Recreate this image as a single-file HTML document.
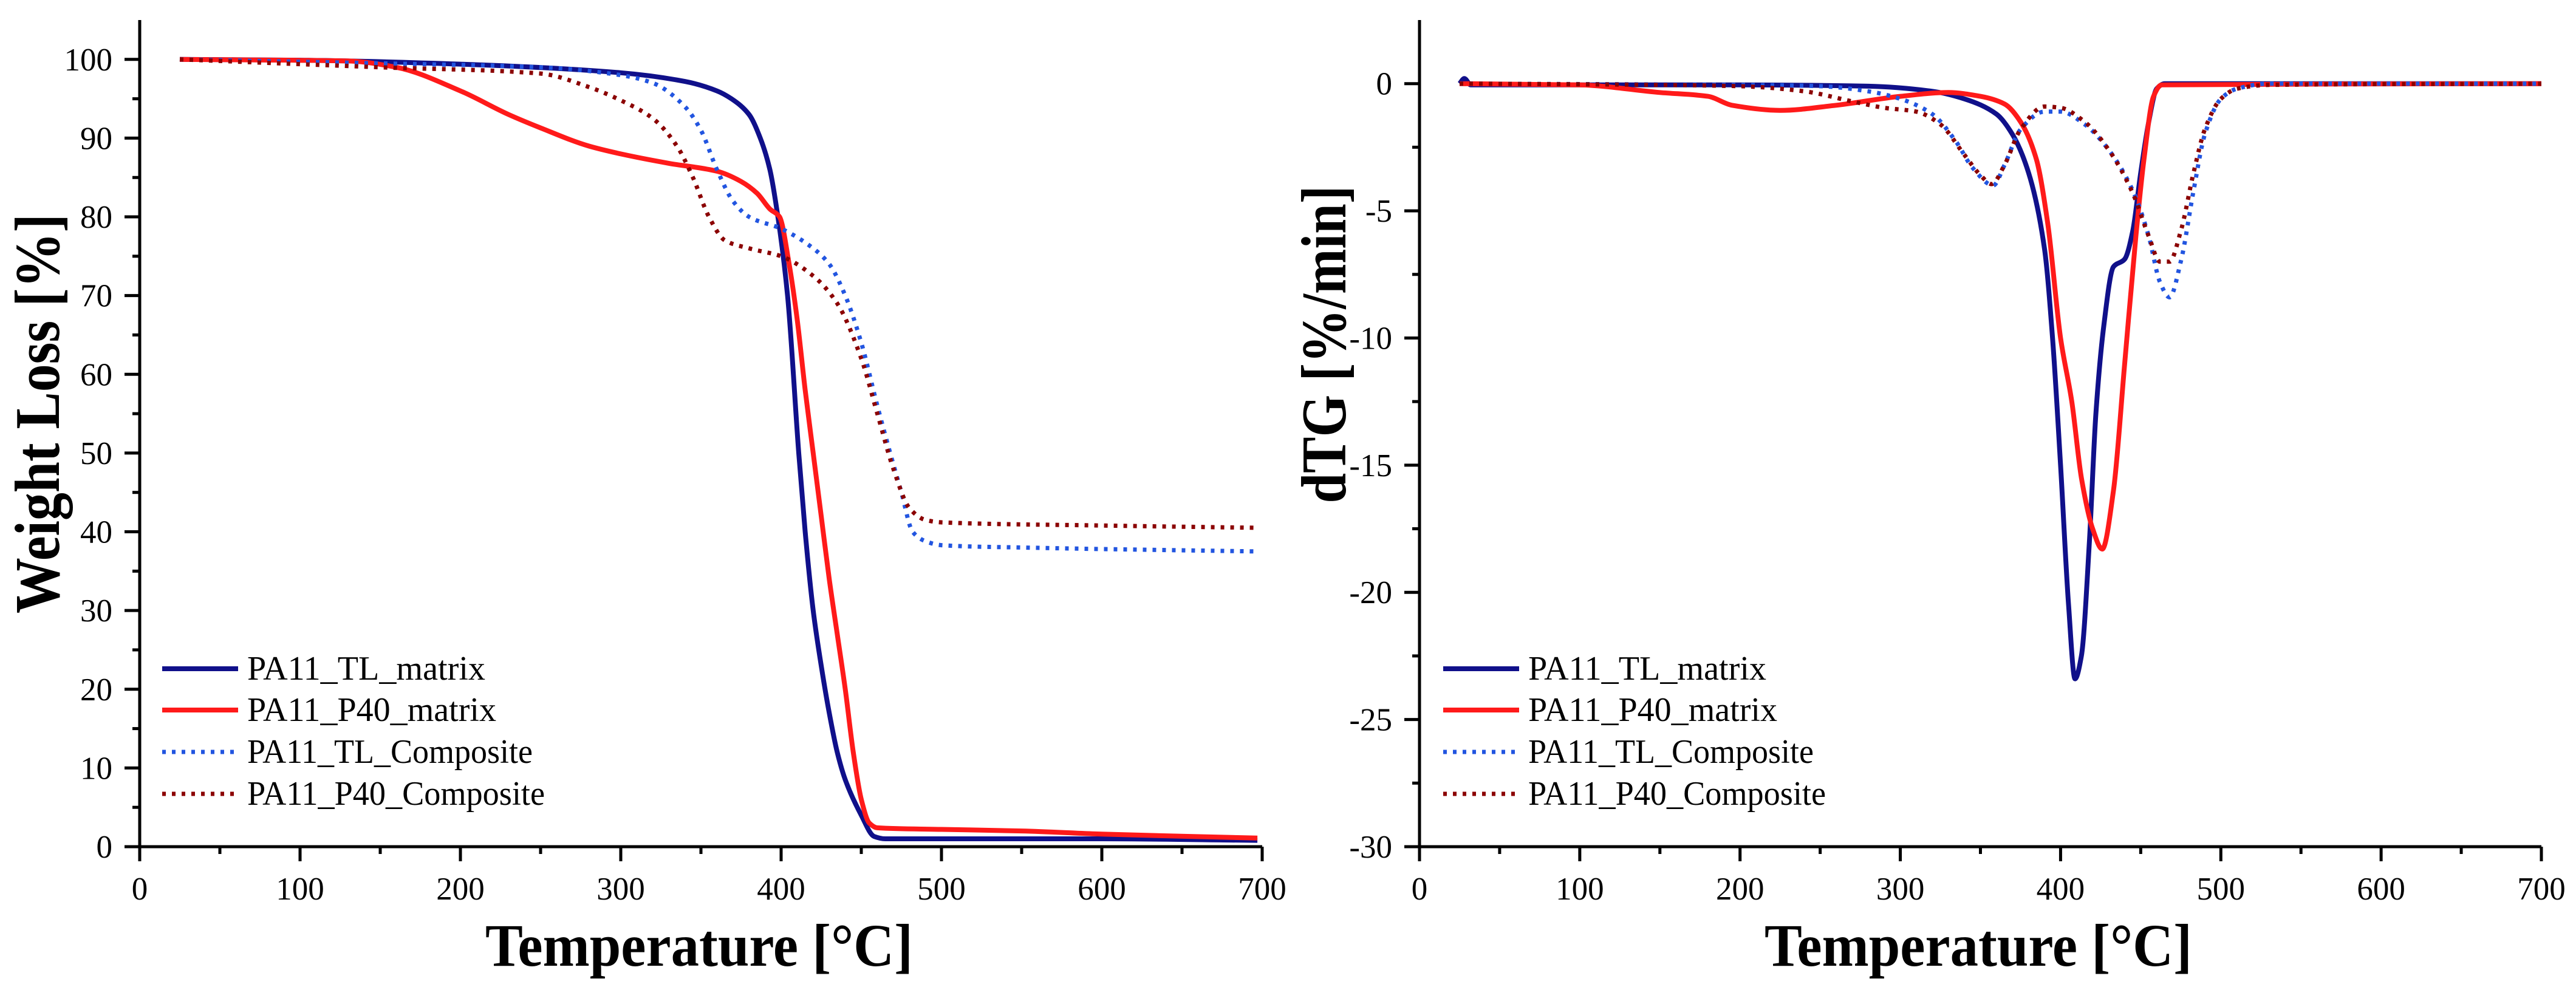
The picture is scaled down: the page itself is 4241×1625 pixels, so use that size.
<!DOCTYPE html>
<html><head><meta charset="utf-8"><style>
html,body{margin:0;padding:0;background:#fff;}
svg{display:block;font-family:"Liberation Serif",serif;}
</style></head><body>
<svg id="chart" width="4241" height="1625" viewBox="0 0 4241 1625" xmlns="http://www.w3.org/2000/svg"></svg>
<script>
// ---- data: TGA (left) ----
const tlMatrixT = [25,100,200,300,340,360,369,380,387,393,398,404,411,415,420,425,430,435,440,450,458,465,500,600,697];
const tlMatrixW = [100,99.9,99.4,98.3,97.2,96,95,93,90,86,80,70,50,40,30,23,17,12,8.5,4,1.3,1,1,1,0.8];
const p40MatrixT = [25,130,160,200,230,250,280,300,330,360,375,385,393,399,405,410,415,420,425,430,435,440,445,450,455,460,500,550,600,697];
const p40MatrixW = [100,99.8,99,96,93,91.3,89,88,86.8,85.8,84.5,83,81,80,74,67,58,50,42,34,27,20,12,6,3,2.4,2.2,2,1.6,1.1];
const tlCompT = [25,150,250,300,320,340,350,360,370,380,400,420,430,440,450,460,468,475,482,490,500,550,697];
const tlCompW = [100,99.5,99,98,97,94,91,86,82,80,78.5,76,74,70,64,56,50,45,40,38.8,38.3,38,37.5];
const p40CompT = [25,150,250,280,300,320,335,345,355,365,380,400,420,435,450,460,470,480,490,500,600,697];
const p40CompW = [100,99,98.2,96.5,94.8,92.5,89,85,80,77,76,75,72.5,69,62,55,48,43,41.5,41.2,40.8,40.5];
// ---- data: DTG (right) ----
const tlMatrixDT = [25,28,32,100,200,280,320,340,360,370,380,390,395,400,405,409,413,418,422,427,433,440,445,450,455,460,465,700];
const tlMatrixD = [0,0.2,-0.05,-0.05,-0.05,-0.1,-0.3,-0.6,-1.2,-2,-3.5,-6.5,-10,-15,-20.5,-23.4,-22.5,-18,-13,-9.5,-7.2,-6.9,-5.8,-3.5,-1.5,-0.2,0,0];
const p40MatrixDT = [25,100,150,180,195,225,260,300,330,350,365,375,385,392,400,407,413,420,426,433,440,447,452,458,463,700];
const p40MatrixD = [0,-0.05,-0.35,-0.5,-0.85,-1.05,-0.85,-0.5,-0.35,-0.5,-0.8,-1.5,-3,-5.5,-10,-12.5,-15.5,-17.5,-18.3,-16,-11,-6,-3,-0.5,-0.05,0];
const tlCompDT = [25,200,250,280,300,320,335,345,358,365,375,390,400,415,430,445,455,462,468,475,483,490,500,510,530,700];
const tlCompD = [0,-0.05,-0.1,-0.3,-0.6,-1.2,-2.3,-3.3,-4,-3.2,-1.8,-1.1,-1.1,-1.6,-2.6,-4.2,-6,-7.8,-8.4,-7,-4.2,-2,-0.6,-0.2,0,0];
const p40CompDT = [25,150,200,240,270,290,310,325,340,350,357,365,375,390,400,415,430,445,455,462,468,475,483,490,500,510,530,700];
const p40CompD = [0,-0.05,-0.1,-0.3,-0.7,-0.95,-1.1,-1.6,-2.8,-3.6,-3.95,-3.2,-1.8,-0.9,-0.95,-1.5,-2.6,-4.3,-6,-7,-7,-5.8,-3.5,-1.8,-0.6,-0.2,-0.05,0];
const xTicks = [0,100,200,300,400,500,600,700];
const yTicksL = [0,10,20,30,40,50,60,70,80,90,100];
const yTicksR = [-30,-25,-20,-15,-10,-5,0];
const seriesNames = ["PA11_TL_matrix","PA11_P40_matrix","PA11_TL_Composite","PA11_P40_Composite"];

const NS="http://www.w3.org/2000/svg";
const svg=document.getElementById('chart');
function mk(tag,attrs,parent){const e=document.createElementNS(NS,tag);for(const k in attrs)e.setAttribute(k,attrs[k]);(parent||svg).appendChild(e);return e;}
const styles=[
 {stroke:"#10108a",w:8,dash:null},
 {stroke:"#ff1a1a",w:8,dash:null},
 {stroke:"#2255e0",w:7,dash:"6 10"},
 {stroke:"#8b0000",w:7,dash:"6 10"}];

// monotone cubic (Fritsch-Carlson) path through pixel points with increasing x
function smoothPath(pts){
 const n=pts.length;
 const dx=[],m=[];
 for(let i=0;i<n-1;i++){dx[i]=pts[i+1][0]-pts[i][0];m[i]=(pts[i+1][1]-pts[i][1])/dx[i];}
 const t=new Array(n);
 t[0]=m[0];t[n-1]=m[n-2];
 for(let i=1;i<n-1;i++){
  if(m[i-1]*m[i]<=0)t[i]=0;
  else{const w1=2*dx[i]+dx[i-1],w2=dx[i]+2*dx[i-1];t[i]=(w1+w2)/(w1/m[i-1]+w2/m[i]);}
 }
 let d='M'+pts[0][0].toFixed(1)+' '+pts[0][1].toFixed(1);
 for(let i=0;i<n-1;i++){
  const h=dx[i]/3;
  const c1=[pts[i][0]+h,pts[i][1]+t[i]*h];
  const c2=[pts[i+1][0]-h,pts[i+1][1]-t[i+1]*h];
  d+=`C${c1[0].toFixed(1)} ${c1[1].toFixed(1)} ${c2[0].toFixed(1)} ${c2[1].toFixed(1)} ${pts[i+1][0].toFixed(1)} ${pts[i+1][1].toFixed(1)}`;
 }
 return d;
}

function panel(cfg){
 const g=mk('g',{});
 
 
 const X=v=>cfg.x0+(v-0)/700*(cfg.x1-cfg.x0);
 const Y=v=>cfg.yb+(v-cfg.ymin)/(cfg.ymax-cfg.ymin)*(cfg.yt-cfg.yb);
 const sg=mk('g',{},g);
 cfg.series.forEach((s,i)=>{
  const pts=s[0].map((t,j)=>[X(t),Y(s[1][j])]);
  const p=mk('path',{d:smoothPath(pts),fill:'none',stroke:styles[i].stroke,'stroke-width':styles[i].w,'stroke-linejoin':'round'},sg);
  if(styles[i].dash)p.setAttribute('stroke-dasharray',styles[i].dash);
  
  
 });
 const ax=mk('path',{d:`M${cfg.x0} ${cfg.yt} V${cfg.yb} H${cfg.x1}`,fill:'none',stroke:'#000','stroke-width':5},g);
 
 
 xTicks.forEach((v,i)=>{
  mk('line',{x1:X(v),x2:X(v),y1:cfg.yb,y2:cfg.yb+24,stroke:'#000','stroke-width':5},g);
  if(i<xTicks.length-1)mk('line',{x1:X(v+50),x2:X(v+50),y1:cfg.yb,y2:cfg.yb+12,stroke:'#000','stroke-width':5},g);
  const t=mk('text',{x:X(v),y:cfg.yb+87,'font-size':53,'text-anchor':'middle'},g);
  t.textContent=v;
  
  
 });
 const yt=cfg.yticks, step=yt[1]-yt[0];
 yt.forEach((v,i)=>{
  mk('line',{x1:cfg.x0-25,x2:cfg.x0,y1:Y(v),y2:Y(v),stroke:'#000','stroke-width':5},g);
  if(i<yt.length-1)mk('line',{x1:cfg.x0-12,x2:cfg.x0,y1:Y(v+step/2),y2:Y(v+step/2),stroke:'#000','stroke-width':5},g);
  const t=mk('text',{x:cfg.x0-45,y:Y(v)+18,'font-size':53,'text-anchor':'end'},g);
  t.textContent=v;
  
  
 });
 const last=yt[yt.length-1];
 if(cfg.ymax>last){const v=last+step/2;if(v<cfg.ymax)mk('line',{x1:cfg.x0-12,x2:cfg.x0,y1:Y(v),y2:Y(v),stroke:'#000','stroke-width':5},g);}
 const xt=mk('text',{x:cfg.xtX,y:1590,'font-size':100,'font-weight':'bold','textLength':704,'lengthAdjust':'spacingAndGlyphs'},g);
 xt.textContent='Temperature [°C]';
 
 
 const yti=mk('text',{x:0,y:0,'font-size':105,'font-weight':'bold','text-anchor':'middle','textLength':cfg.ytLen,'lengthAdjust':'spacingAndGlyphs',transform:`translate(${cfg.ytBase},${cfg.ytC}) rotate(-90)`},g);
 yti.textContent=cfg.ytitle;
 
 
 const lg=mk('g',{},g);
 
 
 const rows=[1101,1169,1238,1307], lens=[392,410,470,490];
 seriesNames.forEach((n,i)=>{
  const e=mk('g',{},lg);
  
  
  const l=mk('line',{x1:cfg.lgx,x2:cfg.lgx+125,y1:rows[i],y2:rows[i],stroke:styles[i].stroke,'stroke-width':styles[i].w},e);
  if(styles[i].dash)l.setAttribute('stroke-dasharray',styles[i].dash);
  const t=mk('text',{x:cfg.lgx+140,y:rows[i]+18,'font-size':56,'textLength':lens[i],'lengthAdjust':'spacingAndGlyphs'},e);
  t.textContent=n;
 });
}
panel({name:'tga-panel',x0:230,x1:2078,yb:1394,yt:33,ymin:0,ymax:105,yticks:yTicksL,
 series:[[tlMatrixT,tlMatrixW],[p40MatrixT,p40MatrixW],[tlCompT,tlCompW],[p40CompT,p40CompW]],
 xtX:799,ytitle:'Weight Loss [%]',ytBase:97,ytC:681,ytLen:658,lgx:267});
panel({name:'dtg-panel',x0:2337,x1:4184,yb:1394,yt:33,ymin:-30,ymax:2.5,yticks:yTicksR,
 series:[[tlMatrixDT,tlMatrixD],[p40MatrixDT,p40MatrixD],[tlCompDT,tlCompD],[p40CompDT,p40CompD]],
 xtX:2905,ytitle:'dTG [%/min]',ytBase:2215,ytC:567,ytLen:523,lgx:2376});
</script>
</body></html>
